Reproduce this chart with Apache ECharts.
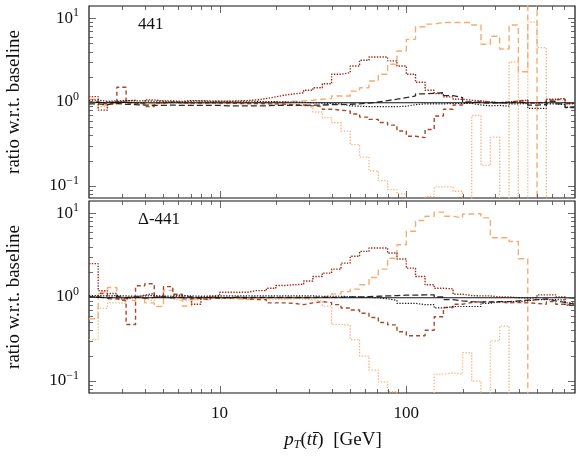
<!DOCTYPE html>
<html><head><meta charset="utf-8">
<script src="https://cdn.jsdelivr.net/npm/echarts@6/dist/echarts.min.js"></script>
<style>html,body{margin:0;padding:0;background:#fff}#c{width:581px;height:457px}</style>
</head><body><div id="c"></div>
<script>
// bin edges of pT(tt) [GeV]
const binEdges = [2.00,2.24,2.51,2.82,3.16,3.55,3.98,4.47,5.01,5.62,6.31,7.08,7.94,8.91,10.0,11.2,12.6,14.1,15.8,17.8,20.0,22.4,25.1,28.2,31.6,35.5,39.8,44.7,50.1,56.2,63.1,70.8,79.4,89.1,100,112,126,141,158,178,200,224,251,282,316,355,398,447,501,562,631,708,794];

const panelLabels = ['441', 'Δ-441'];
const yTickValues = [0.1, 1, 10];
const xTickValues = [10, 100];

// ---- top panel: 441 ----
const topBlackSolid = [0.99,0.98,0.99,0.99,0.98,0.98,0.98,0.98,0.98,0.98,0.98,0.98,0.98,0.98,0.98,0.98,0.98,0.98,0.98,0.98,0.98,0.98,0.98,0.98,0.98,0.98,0.98,0.98,0.98,0.98,0.98,0.98,0.98,0.98,0.98,0.98,0.98,0.98,0.98,0.98,0.98,0.98,0.98,0.98,0.98,0.98,0.98,0.98,0.98,0.98,0.98,0.97];
const topBlackDashed = [0.95,0.93,0.96,0.94,0.93,0.92,0.91,0.91,0.92,0.91,0.91,0.91,0.91,0.91,0.90,0.90,0.90,0.90,0.90,0.91,0.91,0.91,0.91,0.92,0.92,0.93,0.93,0.94,0.95,0.97,1.00,1.04,1.08,1.13,1.18,1.25,1.27,1.29,1.19,1.13,1.00,0.98,0.97,0.98,0.97,1.00,0.98,0.92,0.93,1.02,0.95,0.86];
const topBlackDotted = [1.05,1.02,1.03,1.04,1.03,1.03,1.02,1.03,1.03,1.02,1.04,1.03,1.03,1.02,1.02,1.02,1.02,1.02,1.01,1.01,1.00,1.00,0.99,0.98,0.97,0.96,0.95,0.90,0.89,0.88,0.88,0.88,0.88,0.89,0.93,0.95,0.95,0.95,0.96,0.96,0.96,0.92,0.90,0.91,0.89,0.95,0.96,0.84,0.84,0.95,0.93,0.87];
const topDarkRedDotted = [1.16,0.80,1.00,1.03,1.05,0.98,1.06,1.02,1.00,1.00,1.02,1.03,1.01,1.02,1.02,1.03,1.04,1.06,1.10,1.15,1.21,1.25,1.29,1.38,1.48,1.65,2.14,2.24,2.69,3.15,3.45,3.45,3.10,2.69,2.14,1.72,1.38,1.26,1.15,1.08,1.05,1.03,1.00,0.98,1.00,1.02,1.05,0.97,0.98,1.08,1.10,0.95];
const topBrownDashed = [1.00,0.95,0.98,1.50,0.97,0.95,0.88,0.97,1.00,0.98,0.97,0.97,0.98,0.97,0.97,0.96,0.96,0.96,0.95,0.95,0.94,0.93,0.92,0.90,0.88,0.82,0.80,0.78,0.72,0.66,0.62,0.57,0.53,0.45,0.39,0.375,0.47,0.68,0.82,0.92,0.98,1.02,1.00,0.98,1.00,1.03,1.05,0.97,1.00,1.06,1.08,0.96];
const topOrangeDashed = [1.08,0.92,0.97,1.00,0.98,0.96,0.95,0.97,0.98,0.96,0.97,0.98,0.97,0.97,0.98,0.98,0.98,0.99,0.99,1.00,1.00,1.02,1.03,1.05,1.08,1.10,1.18,1.18,1.35,1.48,1.78,2.14,2.82,4.07,5.6,7.9,8.5,8.9,8.9,8.9,8.9,8.3,4.9,6.1,4.3,8.3,2.3,100,0.001,0.001,0.001,0.001];
const topOrangeDotted = [0.97,0.88,0.95,0.98,0.97,0.96,0.94,0.96,0.97,0.96,0.95,0.96,0.96,0.96,0.95,0.96,0.95,0.95,0.95,0.94,0.94,0.93,0.90,0.855,0.76,0.65,0.565,0.45,0.31,0.22,0.15,0.115,0.09,0.08,0.001,0.001,0.074,0.097,0.097,0.086,0.001,0.69,0.175,0.38,0.001,3.0,0.001,9.0,4.45,0.001,0.001,0.001];

// ---- bottom panel: Δ-441 ----
const botBlackSolid = [0.99,0.98,0.98,0.98,0.98,0.98,0.98,0.98,0.98,0.98,0.98,0.98,0.98,0.98,0.98,0.98,0.98,0.98,0.98,0.98,0.98,0.98,0.98,0.98,0.98,0.98,0.98,0.98,0.98,0.98,0.98,0.98,0.98,0.98,0.98,0.98,0.98,0.98,0.98,0.98,0.98,0.98,0.98,0.98,0.98,0.98,0.98,0.98,0.98,0.98,0.98,0.97];
const botBlackDashed = [1.00,0.97,1.02,0.98,1.00,0.97,0.99,1.01,0.98,0.99,1.00,0.98,0.99,0.98,0.99,0.99,0.99,0.99,0.99,0.99,0.99,0.99,0.99,0.99,0.99,0.99,0.99,1.00,1.00,1.01,1.02,1.03,1.04,1.05,1.05,1.06,1.06,1.00,0.93,0.90,0.88,0.87,0.87,0.88,0.88,0.90,0.92,0.93,0.95,0.90,0.86,0.82];
const botBlackDotted = [1.04,1.03,1.04,1.03,1.02,1.03,1.04,1.03,1.02,1.03,1.03,1.02,1.03,1.03,1.03,1.03,1.03,1.03,1.03,1.03,1.03,1.03,1.03,1.03,1.02,1.02,1.02,1.01,1.00,0.99,0.98,0.95,0.91,0.84,0.84,0.81,0.81,0.74,0.77,0.77,0.77,0.77,0.84,0.88,0.88,0.88,0.90,0.93,0.93,0.93,0.92,0.80];
const botDarkRedDotted = [2.50,1.19,1.10,0.95,1.00,1.05,1.10,1.00,0.98,1.05,1.00,0.82,1.00,1.03,1.14,1.14,1.14,1.19,1.19,1.27,1.37,1.40,1.42,1.55,1.76,1.93,2.15,2.54,3.06,3.50,3.84,3.84,3.35,2.84,2.21,1.76,1.40,1.27,1.25,1.08,1.04,1.03,1.03,1.00,1.00,0.98,0.97,0.98,1.06,1.06,1.00,0.85];
const botBrownDashed = [1.00,1.10,0.95,0.90,0.47,1.36,1.44,1.00,1.33,1.08,0.95,0.97,0.92,0.98,0.97,1.00,0.95,0.93,0.93,0.85,0.85,0.84,0.81,0.85,0.88,0.86,0.81,0.74,0.70,0.64,0.57,0.495,0.465,0.385,0.345,0.345,0.40,0.58,0.75,0.82,0.86,0.88,0.88,0.87,0.85,0.86,0.85,0.84,0.82,0.88,0.82,0.78];
const botOrangeDashed = [0.55,1.15,1.30,0.95,0.90,1.00,0.85,0.77,1.20,1.00,0.78,0.95,0.92,1.00,0.97,0.95,0.93,0.96,0.97,0.98,0.97,0.97,0.96,0.98,1.00,1.03,1.09,1.16,1.24,1.40,1.71,2.15,2.90,4.20,6.10,8.20,9.20,10.3,9.20,8.80,9.80,9.90,8.80,5.10,5.10,4.60,2.86,0.001,0.001,0.001,0.001,0.001];
const botOrangeDotted = [0.31,0.73,0.85,0.84,1.00,0.95,0.90,1.00,0.95,0.90,0.92,0.93,0.97,0.95,0.96,0.96,0.96,0.95,0.95,0.94,0.94,0.95,0.95,0.93,0.90,0.78,0.47,0.46,0.31,0.197,0.134,0.097,0.074,0.001,0.001,0.001,0.001,0.12,0.124,0.12,0.217,0.099,0.001,0.30,0.45,0.001,0.001,0.001,0.001,0.001,0.001,0.001];

const seriesNames = ['orange dotted','orange dashed','brown dashed','dark red dotted','black dotted','black dashed','black solid'];
const topSets = [topOrangeDotted, topOrangeDashed, topBrownDashed, topDarkRedDotted, topBlackDotted, topBlackDashed, topBlackSolid];
const botSets = [botOrangeDotted, botOrangeDashed, botBrownDashed, botDarkRedDotted, botBlackDotted, botBlackDashed, botBlackSolid];
const styles = [
  {color:'#f8b584', width:1.3, type:[1.4,1.6]},
  {color:'#f6ab70', width:1.4, type:[6,3.5]},
  {color:'#a8472a', width:1.4, type:[4,3]},
  {color:'#9c2a17', width:1.4, type:[1.4,1.4]},
  {color:'#1a1a1a', width:1.2, type:[1.3,1.5]},
  {color:'#2a2a2a', width:1.3, type:[6,3]},
  {color:'#111111', width:1.2, type:'solid'}
];

function steps(vals){
  const d = vals.map((v,i)=>[binEdges[i], v]);
  d.push([binEdges[vals.length], vals[vals.length-1]]);
  return d;
}

const X_MIN = 2, X_MAX = 800, Y_MIN = 0.0714, Y_MAX = 14;
const FONT = '"Liberation Serif", "DejaVu Serif", serif';
const grids = [
  {left:89, top:6, width:486, height:192},
  {left:89, top:201, width:486, height:192}
];

function yLabel(v){
  const e = Math.round(Math.log10(v));
  if (Math.abs(Math.log10(v) - e) > 1e-6) return '';
  if (!yTickValues.some(t => Math.abs(t - v) / t < 1e-6)) return '';
  return '{b|10}{s|' + (e < 0 ? '\u2212' + (-e) : e) + '}';
}
function xLabel(v){
  const hit = xTickValues.find(t => Math.abs(t - v) / t < 1e-6);
  return hit ? String(hit) : '';
}

const series = [];
[topSets, botSets].forEach((sets, gi) => {
  sets.forEach((vals, k) => {
    series.push({
      name: seriesNames[k], type:'line', xAxisIndex:gi, yAxisIndex:gi,
      data: steps(vals), step:'end', showSymbol:false, symbol:'none',
      clip:true, silent:true,
      lineStyle:{color:styles[k].color, width:styles[k].width, type:styles[k].type}
    });
  });
});

const option = {
  animation:false,
  backgroundColor:'#fff',
  grid: grids.map(g => Object.assign({show:true, borderColor:'#111', borderWidth:1.2, backgroundColor:'transparent'}, g)),
  xAxis: [0,1].map(gi => ({
    gridIndex:gi, type:'log', logBase:10, min:X_MIN, max:X_MAX,
    axisLine:{show:false}, axisTick:{show:false}, splitLine:{show:false}, minorTick:{show:false},
    axisLabel:{show: gi===1, formatter:xLabel, fontFamily:FONT, fontSize:17, color:'#111', margin:12, showMinLabel:false, showMaxLabel:false}
  })),
  yAxis: [0,1].map(gi => ({
    gridIndex:gi, type:'log', logBase:10, min:Y_MIN, max:Y_MAX,
    axisLine:{show:false}, axisTick:{show:false}, splitLine:{show:false},
    axisLabel:{show:true, formatter:yLabel, margin:10, color:'#111', showMinLabel:false, showMaxLabel:false,
      rich:{ b:{fontFamily:FONT, fontSize:17, color:'#111'}, s:{fontFamily:FONT, fontSize:12, color:'#111', padding:[0,0,10,0]} } }
  })),
  series: series
};

const chart = echarts.init(document.getElementById('c'), null, {renderer:'canvas'});
chart.setOption(option);

// ticks (log minor/major), drawn inward on all four sides of each panel
const gfx = [];
function seg(x1,y1,x2,y2){
  return {type:'line', silent:true, z:100, shape:{x1:x1,y1:y1,x2:x2,y2:y2}, style:{stroke:'#444', lineWidth:0.8}};
}
grids.forEach((g, gi) => {
  const L = g.left, R = g.left + g.width, T = g.top, B = g.top + g.height;
  for (let k = -2; k <= 1; k++) for (let m = 1; m <= 9; m++) {
    const v = m * Math.pow(10, k);
    if (v < Y_MIN || v > Y_MAX) continue;
    const y = Math.round(chart.convertToPixel({gridIndex:gi}, [X_MIN, v])[1]) + 0.5;
    const len = m === 1 ? 7 : 4;
    gfx.push(seg(L, y, L + len, y));
    gfx.push(seg(R - len, y, R, y));
  }
  for (let k = 0; k <= 2; k++) for (let m = 1; m <= 9; m++) {
    const v = m * Math.pow(10, k);
    if (v <= X_MIN || v >= X_MAX) continue;
    const x = Math.round(chart.convertToPixel({gridIndex:gi}, [v, 1])[0]) + 0.5;
    const len = m === 1 ? 7 : 4;
    gfx.push(seg(x, B, x, B - len));
    gfx.push(seg(x, T, x, T + len));
  }
  // panel label
  gfx.push({type:'text', silent:true, z:100, x: 138, y: g.top + 19,
    style:{text: panelLabels[gi], font:'17px ' + FONT, fill:'#111', align:'left', verticalAlign:'middle'}});
  // y-axis title
  gfx.push({type:'text', silent:true, z:100, x: 14, y: g.top + g.height/2, rotation: Math.PI/2,
    style:{text:'ratio w.r.t. baseline', font:'19px ' + FONT, fill:'#111', align:'center', verticalAlign:'middle'}});
});
// x-axis title
gfx.push({type:'text', silent:true, z:100, x: 333, y: 440,
  style:{text:'{i|p}{sub|T}{n|(}{i|tt\u0304}{n|)  [GeV]}', align:'center', verticalAlign:'middle',
    rich:{ i:{font:'italic 19px ' + FONT, fill:'#111'}, n:{font:'19px ' + FONT, fill:'#111'},
           sub:{font:'italic 12px ' + FONT, fill:'#111', padding:[9,0,0,0]} } }});
chart.setOption({graphic: gfx});
</script>
</body></html>
